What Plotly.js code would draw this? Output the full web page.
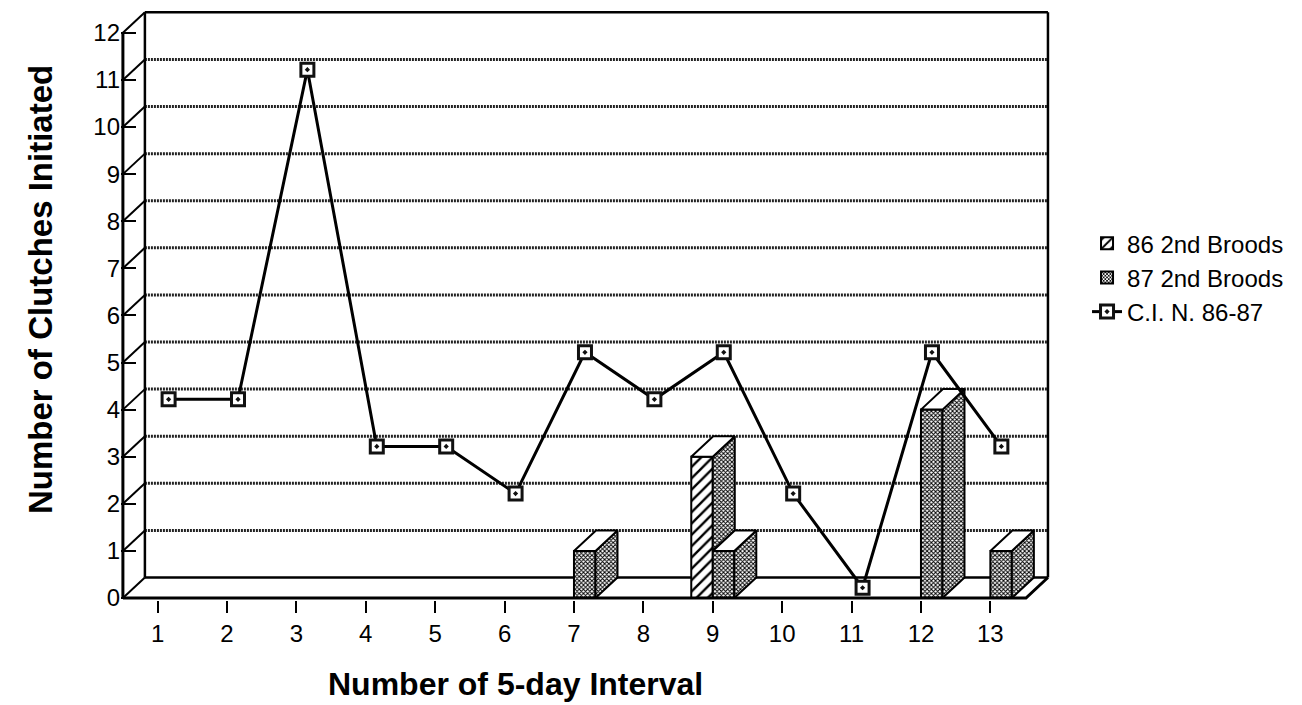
<!DOCTYPE html>
<html><head><meta charset="utf-8">
<script src="https://cdn.plot.ly/plotly-3.0.1.min.js"></script>
<style>html,body{margin:0;padding:0;background:#fff;}#chart{width:1302px;height:705px;}</style>
</head><body><div id="chart"></div>
<script>
// ---- data ----
const intervals = [1,2,3,4,5,6,7,8,9,10,11,12,13];
const broods86 = [0,0,0,0,0,0,0,0,3,0,0,0,0];
const broods87 = [0,0,0,0,0,0,1,0,1,0,0,4,1];
const cin8687 = [4,4,11,3,3,2,5,4,5,2,0,5,3];
const yTickVals = [0,1,2,3,4,5,6,7,8,9,10,11,12];
const seriesNames = ['86 2nd Broods','87 2nd Broods','C.I. N. 86-87'];
const xTitle = 'Number of 5-day Interval';
const yTitle = 'Number of Clutches Initiated';

// ---- pseudo-3D geometry (style) ----
const X0 = 0.50, XR = 13.83, DX = 0.317, DY = 0.435, W = 0.31, YMAX = 12;
const FONT = 'Liberation Sans, Arial, Helvetica, sans-serif';
const NARROW = 'Liberation Sans Narrow, Arial Narrow, Liberation Sans, Arial, sans-serif';
const hatch = {shape:'/', fgcolor:'#000', bgcolor:'#fff', size:8, solidity:0.3};
const check = {shape:'x', fgcolor:'#000', bgcolor:'#fff', size:3, solidity:0.55};

// side and top faces computed from the bar values
function faces(vals, offset, neighbour){
  const sx=[], sy=[], tx=[], ty=[];
  vals.forEach((h,i)=>{
    if(!h) return;
    const xl = intervals[i] + offset, xr = xl + W;
    const b = neighbour ? Math.min(neighbour[i]||0, h) : 0;
    sx.push(xr, xr+DX, xr+DX, xr, xr, null);
    sy.push(b, b+DY, h+DY, h, b, null);
    tx.push(xl, xr, xr+DX, xl+DX, xl, null);
    ty.push(h, h, h+DY, h+DY, h, null);
  });
  return {sx, sy, tx, ty};
}
const f86 = faces(broods86, -W, broods87);
const f87 = faces(broods87, 0, null);

const edge = {color:'#000', width:2};
const traces = [
  {type:'bar', name:seriesNames[0], x:intervals, y:broods86, width:W, offset:-W,
   marker:{color:'#fff', pattern:hatch, line:edge}},
  {type:'bar', name:seriesNames[1], x:intervals, y:broods87, width:W, offset:0,
   marker:{color:'#fff', pattern:check, line:edge}},
  {type:'scatter', mode:'lines', x:f86.sx, y:f86.sy, fill:'toself', fillcolor:'#fff',
   fillpattern:check, line:edge, showlegend:false, hoverinfo:'skip'},
  {type:'scatter', mode:'lines', x:f86.tx, y:f86.ty, fill:'toself', fillcolor:'#fff',
   line:edge, showlegend:false, hoverinfo:'skip'},
  {type:'scatter', mode:'lines', x:f87.sx, y:f87.sy, fill:'toself', fillcolor:'#fff',
   fillpattern:check, line:edge, showlegend:false, hoverinfo:'skip'},
  {type:'scatter', mode:'lines', x:f87.tx, y:f87.ty, fill:'toself', fillcolor:'#fff',
   line:edge, showlegend:false, hoverinfo:'skip'},
  {type:'scatter', mode:'lines+markers', name:seriesNames[2],
   x:intervals.map(v=>v+DX/2), y:cin8687.map(v=>v+DY/2),
   line:{color:'#000', width:3},
   marker:{symbol:'square-dot', size:13, color:'#fff', line:{color:'#111', width:3}}}
];

// frame / back wall decoration
const shapes = [];
const L = (x0,y0,x1,y1,w,dash,col)=>shapes.push({type:'line', xref:'x', yref:'y', x0, y0, x1, y1,
   layer:'below', line:{color:col||'#000', width:w, dash:dash||'solid'}});
for(let v=1; v<YMAX; v++) L(X0+DX, v+DY, XR, v+DY, 3, '2px,1px', '#222');
L(X0+DX, YMAX+DY, XR, YMAX+DY, 2.5);
L(X0+DX, DY, XR, DY, 2.5);
L(X0+DX, DY, X0+DX, YMAX+DY, 2.5);
L(XR, DY, XR, YMAX+DY, 2.5);
yTickVals.forEach(v=>L(X0, v, X0+DX, v+DY, 2));
L(X0, 0, X0, YMAX, 3);
shapes.push({type:'path', xref:'x', yref:'y', layer:'above',
  path:`M ${X0} 0 L ${XR-DX} 0 L ${XR} ${DY}`, line:{color:'#000', width:3}});

const layout = {
  width:1302, height:705,
  margin:{l:121, r:248, t:8, b:105},
  paper_bgcolor:'#fff', plot_bgcolor:'rgba(0,0,0,0)',
  font:{family:FONT, color:'#000', size:22},
  barmode:'overlay',
  showlegend:true,
  legend:{x:1.0354, y:0.64, xanchor:'left', yanchor:'top', font:{family:FONT, size:24},
          bgcolor:'rgba(0,0,0,0)', traceorder:'normal', itemwidth:30, tracegroupgap:0},
  xaxis:{range:[0.4726, 13.917], tickvals:intervals, ticktext:intervals.map(String),
         ticks:'outside', ticklen:12, tickwidth:2, tickcolor:'#000',
         showgrid:false, zeroline:false, showline:false, tickfont:{family:NARROW, size:24}},
  yaxis:{range:[-0.0425, 12.527], tickvals:yTickVals, ticks:'inside', ticklen:15, tickwidth:2,
         tickcolor:'#000', showgrid:false, zeroline:false, showline:false, tickfont:{family:NARROW, size:24}},
  shapes:shapes,
  annotations:[
    {text:'<b>'+xTitle+'</b>', xref:'paper', yref:'paper', x:(515-121)/933, y:(600-684)/592,
     xanchor:'center', yanchor:'middle', showarrow:false, font:{family:FONT, size:32}},
    {text:'<b>'+yTitle+'</b>', xref:'paper', yref:'paper', x:(40-121)/933, y:(600-290)/592,
     xanchor:'center', yanchor:'middle', textangle:-90, showarrow:false, font:{family:FONT, size:33}}
  ]
};
Plotly.newPlot('chart', traces, layout, {displayModeBar:false, staticPlot:true});
</script></body></html>
